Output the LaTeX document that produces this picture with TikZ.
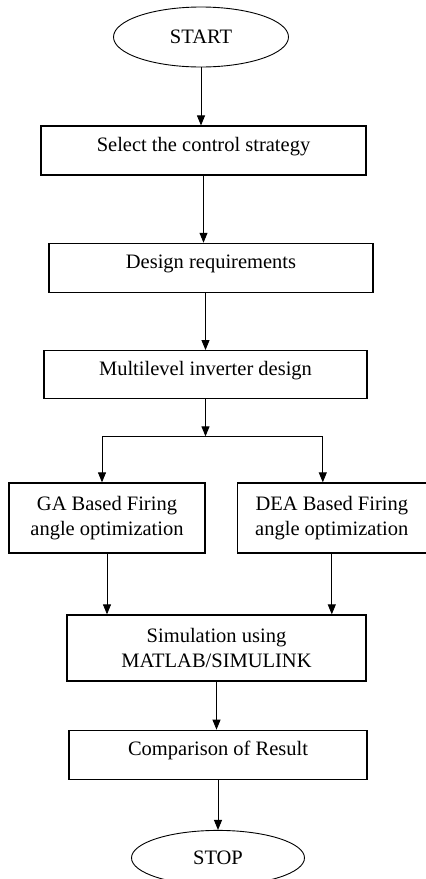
\documentclass[tikz,border=0pt]{standalone}
\usepackage{fontspec}
\setmainfont{Liberation Serif}
\usepackage{tikz}
\usetikzlibrary{positioning, arrows.meta, shapes.geometric}
\tikzset{
    terminal/.style={ellipse, draw=black, line width=0.9pt, minimum width=175pt, minimum height=60pt, inner sep=0pt, font=\fontsize{20.5}{25}\selectfont},
    procbox/.style={rectangle, draw=black, line width=1.3pt, align=center, inner sep=0pt, font=\fontsize{20.5}{25}\selectfont},
    onerow/.style={procbox, text height=14pt, text depth=12pt},
    arrow/.style={-{Triangle[length=10pt, width=8pt]}, line width=0.9pt}
}
\begin{document}
\begin{tikzpicture}
        \useasboundingbox (0pt,0pt) rectangle (426pt,-879pt);
        % Start and first steps
        \node[terminal] (start) at (201pt,-37pt) {START};
        \node[onerow, minimum width=325pt, minimum height=49pt, below=58pt of start, xshift=2.5pt] (select) {Select the control strategy};
        \node[onerow, minimum width=324pt, minimum height=49pt, below=67pt of select, xshift=7.5pt] (design) {Design requirements};
        \node[onerow, minimum width=323pt, minimum height=48pt, below=57pt of design, xshift=-5.5pt] (multi) {Multilevel inverter design};
        
        % Optimization branches
        \node[procbox, minimum width=196pt, minimum height=70pt, below=83pt of multi, xshift=-98.5pt] (ga) {GA Based Firing\\angle optimization};
        \node[procbox, minimum width=189pt, minimum height=70pt, right=31pt of ga] (dea) {DEA Based Firing\\angle optimization};
        \coordinate[below=37pt of multi] (split);
        
        % Simulation and end
        \node[procbox, minimum width=299pt, minimum height=66pt, below=215pt of multi, xshift=11pt] (sim) {Simulation using\\MATLAB/SIMULINK};
        \node[onerow, minimum width=298pt, minimum height=49pt, below=48pt of sim, xshift=1.5pt] (comp) {Comparison of Result};
        \node[terminal, minimum width=173pt, minimum height=55pt, below=50pt of comp] (stop) {STOP};
        
        \draw[arrow] (start.south) -- (start.south |- select.north);
        \draw[arrow] (select.south) -- (select.south |- design.north);
        \draw[arrow] (multi.north |- design.south) -- (multi.north);
        \draw[arrow] (multi) -- (split);
        \draw[arrow] (split) -| ([xshift=-5pt]ga.north);
        \draw[arrow] (split) -| ([xshift=-9pt]dea.north);
        \draw[arrow] (ga.south) -- (ga.south |- sim.north);
        \draw[arrow] (dea.south) -- (dea.south |- sim.north);
        \draw[arrow] (sim.south) -- (sim.south |- comp.north);
        \draw[arrow] (comp.south) -- (stop.north);
    \end{tikzpicture}
\end{document}
